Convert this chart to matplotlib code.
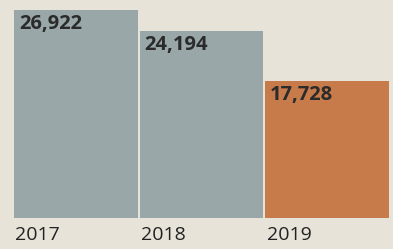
import matplotlib.pyplot as plt

years = ["2017", "2018", "2019"]
values = [26922, 24194, 17728]
bar_colors = ["#99a7a8", "#99a7a8", "#c77a4a"]

bg = "#e7e3d8"
w = 0.985

fig = plt.figure(figsize=(3.93, 2.49), dpi=100, facecolor=bg)
ax = fig.add_axes([13 / 393, 31 / 249, 377 / 393, 218 / 249])
ax.set_facecolor(bg)

xs = list(range(len(years)))
ax.bar(xs, values, width=w, color=bar_colors, edgecolor="none")

for x, v, yr in zip(xs, values, years):
    ax.annotate(f"{v:,}", xy=(x - w / 2, v), xytext=(3.5, -3),
                textcoords="offset points", ha="left", va="top",
                fontsize=14.5, fontweight="bold", family="Open Sans",
                color="#2b2b2b")
    ax.annotate(yr, xy=(x - w / 2, 0), xytext=(1, -6),
                textcoords="offset points", ha="left", va="top",
                fontsize=14, family="Open Sans", color="#222222",
                annotation_clip=False)

ax.set_xlim(-0.5, 2.5)
ax.set_ylim(0, 28216)
ax.axis("off")

fig.savefig("out.png", dpi=100, facecolor=bg)
